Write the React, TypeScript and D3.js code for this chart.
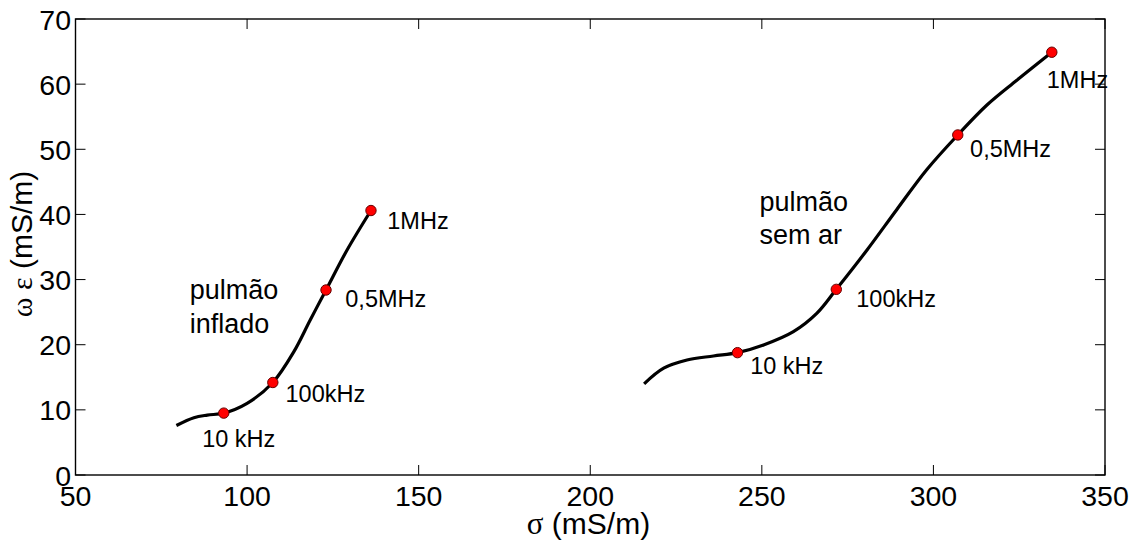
import React from "react";
import * as d3 from "d3";

// Curve samples
const inflatedSigma = [79.4, 84.5, 88.4, 93.2, 100.0, 107.5, 113.6, 118.4, 123.0, 129.1, 136.1];
const inflatedOmegaEps = [7.6, 8.8, 9.2, 9.5, 11.0, 14.2, 18.9, 23.8, 28.4, 34.5, 40.6];

const semArSigma = [215.7, 221.4, 228.2, 235.9, 242.9, 250.5, 259.2, 266.0, 271.7, 280.6, 289.4, 298.1, 307.1, 315.6, 324.3, 334.5];
const semArOmegaEps = [14.0, 16.4, 17.65, 18.27, 18.78, 19.96, 22.0, 24.8, 28.5, 34.5, 40.8, 46.9, 52.2, 56.8, 60.6, 64.9];

// Frequency markers
const freqLabelsInflated = ["10 kHz", "100kHz", "0,5MHz", "1MHz"];
const inflatedMarkSigma = [93.2, 107.5, 123.0, 136.1];
const inflatedMarkOmegaEps = [9.5, 14.2, 28.4, 40.6];

const freqLabelsSemAr = ["10 kHz", "100kHz", "0,5MHz", "1MHz"];
const semArMarkSigma = [242.9, 271.7, 307.1, 334.5];
const semArMarkOmegaEps = [18.78, 28.5, 52.2, 64.9];

// Curve names and where they sit (data coords)
const curveNames = [["pulmão", "inflado"], ["pulmão", "sem ar"]];
const curveNameSigma = [83.3, 249.3];
const curveNameOmegaEps = [27.0, 40.6];

const xTicks = [50, 100, 150, 200, 250, 300, 350];
const yTicks = [0, 10, 20, 30, 40, 50, 60, 70];

// label offsets (pixels) relative to their marker
const inflatedOffsets = [[-21.6, 33.4], [12.7, 19.4], [19.3, 16.7], [16.3, 18]];
const semArOffsets = [[12.7, 21.3], [20, 17.7], [12.3, 22], [-5, 36]];

const W = 1135, H = 543;
const left = 75.5, right = 1105, top = 19, bottom = 475;
const FONT = "'Liberation Sans', Arial, Helvetica, sans-serif";
const SERIF = "'Liberation Serif', 'Times New Roman', serif";

export default function App() {
  const x = d3.scaleLinear().domain([50, 350]).range([left, right]);
  const y = d3.scaleLinear().domain([0, 70]).range([bottom, top]);
  const line = d3
    .line<[number, number]>()
    .x((d) => x(d[0]))
    .y((d) => y(d[1]))
    .curve(d3.curveCatmullRom.alpha(0.5));

  const inflated = inflatedSigma.map((s, i) => [s, inflatedOmegaEps[i]] as [number, number]);
  const semAr = semArSigma.map((s, i) => [s, semArOmegaEps[i]] as [number, number]);

  const tickLen = 10;

  return (
    <svg width={W} height={H} style={{ position: "absolute", left: 0, top: 0, background: "#fff" }} fontFamily={FONT}>
      <rect x={0} y={0} width={W} height={H} fill="#fff" />
      {/* curves */}
      <path d={line(inflated) || ""} fill="none" stroke="#000" strokeWidth={3.2} />
      <path d={line(semAr) || ""} fill="none" stroke="#000" strokeWidth={3.2} />

      {/* markers & labels */}
      {inflatedMarkSigma.map((s, i) => (
        <g key={"im" + i}>
          <circle cx={x(s)} cy={y(inflatedMarkOmegaEps[i])} r={5.2} fill="#ff0000" stroke="#600" strokeWidth={1} />
          <text x={x(s) + inflatedOffsets[i][0]} y={y(inflatedMarkOmegaEps[i]) + inflatedOffsets[i][1]} fontSize={23.5} fill="#000">
            {freqLabelsInflated[i]}
          </text>
        </g>
      ))}
      {semArMarkSigma.map((s, i) => (
        <g key={"sm" + i}>
          <circle cx={x(s)} cy={y(semArMarkOmegaEps[i])} r={5.2} fill="#ff0000" stroke="#600" strokeWidth={1} />
          <text x={x(s) + semArOffsets[i][0]} y={y(semArMarkOmegaEps[i]) + semArOffsets[i][1]} fontSize={23.5} fill="#000">
            {freqLabelsSemAr[i]}
          </text>
        </g>
      ))}

      {curveNames.map((lines, i) => (
        <text key={"cn" + i} x={x(curveNameSigma[i])} y={y(curveNameOmegaEps[i])} fontSize={27} fill="#000">
          {lines.map((t, j) => (
            <tspan key={j} x={x(curveNameSigma[i])} dy={j === 0 ? 0 : 33.7}>
              {t}
            </tspan>
          ))}
        </text>
      ))}

      {/* axes box */}
      <rect x={left} y={top} width={right - left} height={bottom - top} fill="none" stroke="#000" strokeWidth={1.4} />
      {xTicks.map((t) => (
        <g key={"xt" + t}>
          <line x1={x(t)} x2={x(t)} y1={bottom} y2={bottom - tickLen} stroke="#000" strokeWidth={1} />
          <line x1={x(t)} x2={x(t)} y1={top} y2={top + tickLen} stroke="#000" strokeWidth={1} />
          <text x={x(t)} y={506} textAnchor="middle" fontSize={28.5} fill="#000">
            {t}
          </text>
        </g>
      ))}
      {yTicks.map((t) => (
        <g key={"yt" + t}>
          <line x1={left} x2={left + tickLen} y1={y(t)} y2={y(t)} stroke="#000" strokeWidth={1} />
          <line x1={right} x2={right - tickLen} y1={y(t)} y2={y(t)} stroke="#000" strokeWidth={1} />
          <text x={71} y={y(t) + 10.5} textAnchor="end" fontSize={28.5} fill="#000">
            {t}
          </text>
        </g>
      ))}

      {/* axis labels */}
      <text x={588.5} y={534} textAnchor="middle" fontSize={30} fill="#000">
        <tspan fontFamily={SERIF} fontSize={31}>σ</tspan>
        <tspan> (mS/m)</tspan>
      </text>
      <text transform={`translate(32, 244) rotate(-90)`} textAnchor="middle" fontSize={30} fill="#000">
        <tspan fontFamily={SERIF} fontSize={30}>ω ε</tspan>
        <tspan> (mS/m)</tspan>
      </text>
    </svg>
  );
}
